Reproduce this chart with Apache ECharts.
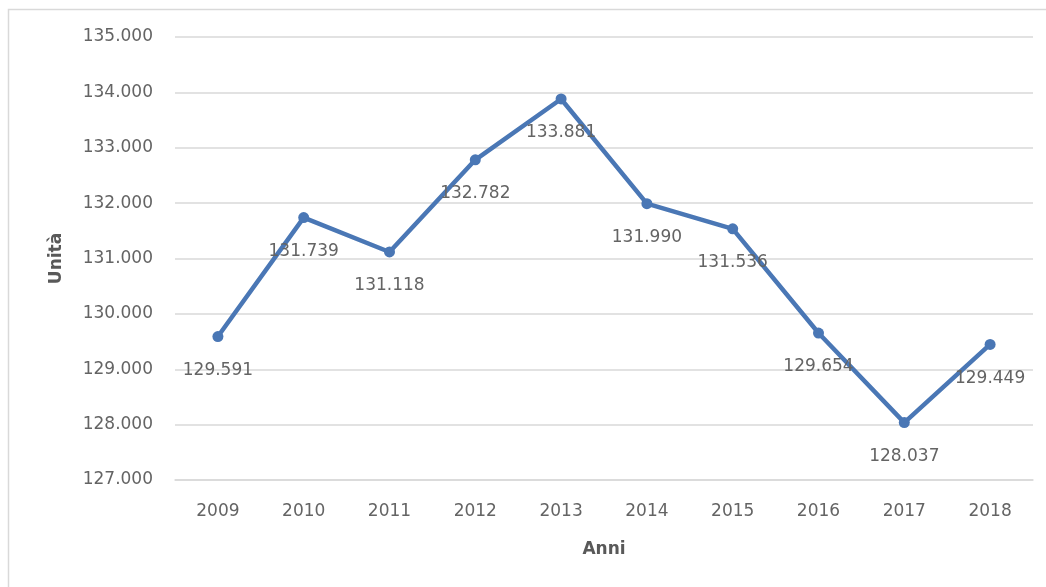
<!DOCTYPE html>
<html>
<head>
<meta charset="utf-8">
<script src="https://cdn.jsdelivr.net/npm/echarts@6/dist/echarts.min.js"></script>
<style>
  html, body { margin: 0; padding: 0; background: #fff; }
  #chart { width: 1046px; height: 587px; }
</style>
</head>
<body>
<div id="chart"></div>
<script>
// Years on the horizontal axis
const anni = ['2009', '2010', '2011', '2012', '2013', '2014', '2015', '2016', '2017', '2018'];
// Units per year
const unita = [129591, 131739, 131118, 132782, 133881, 131990, 131536, 129654, 128037, 129449];
// Value axis range and step
const yMin = 127000;
const yMax = 135000;
const yStep = 1000;

// Italian number format: dot as thousands separator
const fmt = v => Math.round(v).toString().replace(/\B(?=(\d{3})+(?!\d))/g, '.');

const textColor = '#646464';
const titleColor = '#595959';
const fontFamily = '"DejaVu Sans", sans-serif';

const chart = echarts.init(document.getElementById('chart'), null, { renderer: 'canvas' });
chart.setOption({
  animation: false,
  backgroundColor: '#fff',
  graphic: [{
    type: 'rect',
    shape: { x: 8.5, y: 9.5, width: 1100, height: 700 },
    style: { fill: 'none', stroke: '#d9d9d9', lineWidth: 1.5 },
    silent: true
  }],
  grid: { left: 175, right: 13, top: 37, bottom: 107 },
  xAxis: {
    type: 'category',
    data: anni,
    boundaryGap: true,
    name: 'Anni',
    nameLocation: 'middle',
    nameGap: 61,
    nameTextStyle: { color: titleColor, fontSize: 17, fontWeight: 'bold', fontFamily },
    axisLine: { lineStyle: { color: '#d9d9d9', width: 1.5 } },
    axisTick: { show: false },
    axisLabel: { color: textColor, fontSize: 17, fontFamily, margin: 23 }
  },
  yAxis: {
    type: 'value',
    min: yMin,
    max: yMax,
    interval: yStep,
    name: 'Unità',
    nameLocation: 'middle',
    nameGap: 110,
    nameRotate: 90,
    nameTextStyle: { color: titleColor, fontSize: 17, fontWeight: 'bold', fontFamily },
    axisLine: { show: false },
    axisTick: { show: false },
    axisLabel: { color: textColor, fontSize: 17, fontFamily, margin: 22, formatter: fmt },
    splitLine: { lineStyle: { color: '#d9d9d9', width: 1.5 } }
  },
  series: [{
    type: 'line',
    data: unita,
    symbol: 'circle',
    symbolSize: 11,
    lineStyle: { color: '#4a77b5', width: 4.5 },
    itemStyle: { color: '#4a77b5' },
    label: {
      show: true,
      position: 'bottom',
      distance: 20,
      color: textColor,
      fontSize: 17,
      fontFamily,
      formatter: p => fmt(p.value)
    }
  }]
});
</script>
</body>
</html>
